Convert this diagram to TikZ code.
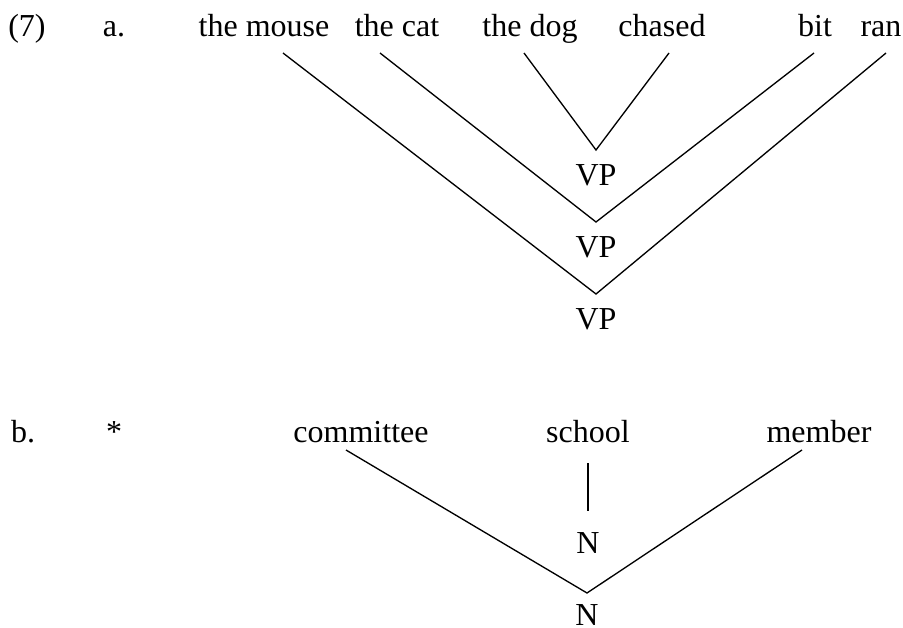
\documentclass[tikz,border=0pt]{standalone}
\usepackage{fontspec}
\setmainfont{Liberation Serif}
\usetikzlibrary{positioning}
\tikzset{word/.style={anchor=base, inner sep=0pt},
  branch/.style={line width=0.5pt}}

\begin{document}
\begin{tikzpicture}[x=0.375pt, y=-0.375pt, font=\fontsize{12}{14}\selectfont]
\useasboundingbox (0,0) rectangle (903,628);
% (7a)
\node[word] (num) at (27,37) {(7)};
\node[word] (la) at (114,37) {a.};
\node[word] (mouse) at (264,37) {the mouse};
\node[word] (cat) at (397,37) {the cat};
\node[word] (dog) at (530,37) {the dog};
\node[word] (chased) at (662,37) {chased};
\node[word] (bit) at (815,37) {bit};
\node[word] (ran) at (881,37) {ran};
\node[word] (vp1) at (596,185) {VP};
\node[word] (vp2) at (596,257) {VP};
\node[word] (vp3) at (596,329) {VP};
\coordinate (mouse-t) at (283,53);
\coordinate (cat-t) at (380,53);
\coordinate (dog-t) at (524,53);
\coordinate (chased-t) at (669,53);
\coordinate (bit-t) at (814,53);
\coordinate (ran-t) at (886,53);
\coordinate (j1) at (596,150);
\coordinate (j2) at (596,222);
\coordinate (j3) at (596,294);
\draw[branch] (dog-t) -- (j1) -- (chased-t);
\draw[branch] (cat-t) -- (j2) -- (bit-t);
\draw[branch] (mouse-t) -- (j3) -- (ran-t);
% (7b)
\node[word] (lb) at (23,442) {b.};
\node[word] (star) at (114,442) {*};
\node[word] (committee) at (361,442) {committee};
\node[word] (school) at (588,442) {school};
\node[word] (member) at (819,442) {member};
\node[word] (n1) at (588,553) {N};
\node[word] (n2) at (587,625) {N};
\coordinate (committee-t) at (346,450);
\coordinate (member-t) at (802,450);
\coordinate (school-t) at (588,463);
\coordinate (school-b) at (588,511);
\coordinate (k) at (587,593);
\draw[branch] (school-t) -- (school-b);
\draw[branch] (committee-t) -- (k) -- (member-t);
\end{tikzpicture}
\end{document}
